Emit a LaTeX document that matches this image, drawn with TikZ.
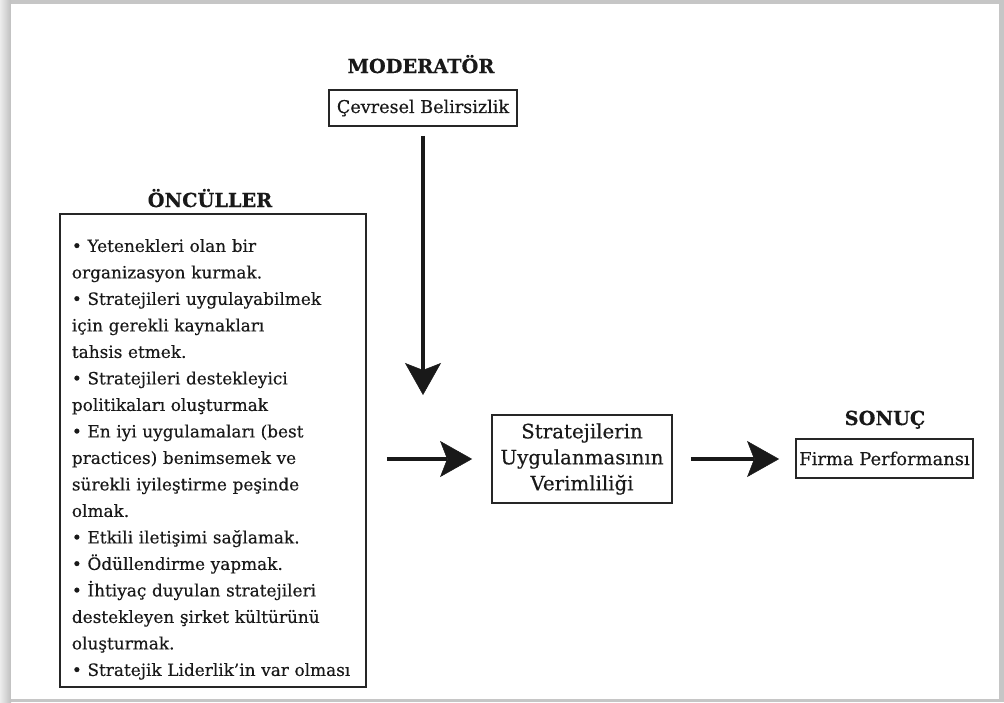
\documentclass[tikz,border=0pt]{standalone}
\usepackage{fontspec}
\setmainfont[FakeBold=0.35]{DejaVu Serif}
\usetikzlibrary{arrows.meta,calc}
\begin{document}
\begin{tikzpicture}[x=1pt,y=-1pt,
  box/.style={draw=black!85, line width=1.8pt, inner sep=0pt, text=black!90,
    font=\fontsize{17.6}{26}\selectfont},
  header/.style={anchor=base, text=black!90, font=\bfseries\fontsize{19.3}{22}\selectfont},
  bigarrow/.style={line width=3.5pt, draw=black!90,
    -{Stealth[length=32pt,width=36pt,inset=7pt,line width=0.5pt]}}]
\useasboundingbox (0,0) rectangle (1004,702);
% page frame with shadow
\fill[gray!45] (0,0) rectangle (1004,702);
\shade[left color=gray!15, right color=gray!50] (0,0) rectangle (11,702);
\fill[white] (11,4) rectangle (999,699);
% headers
\node[header] (modlabel) at (421,73) {MODERATÖR};
\node[header] (antlabel) at (210,207) {ÖNCÜLLER};
\node[header] (sonlabel) at (885,425) {SONUÇ};
% boxes
\node[box, minimum width=188pt, minimum height=36pt] (env) at (423,108) {Çevresel Belirsizlik};
\node[box, minimum width=180pt, minimum height=88pt, align=center,
  font=\fontsize{19.8}{26}\selectfont] (mid) at (582,459)
  {Stratejilerin\\Uygulanmasının\\Verimliliği};
\node[box, minimum width=177pt, minimum height=39pt,
  font=\fontsize{17.9}{22}\selectfont] (firma) at (884.5,458.5) {Firma Performansı};
\node[box, anchor=north west, inner xsep=12pt, inner ysep=0pt, text width=282pt,
  align=left, text height=38pt, text depth=435pt,
  font=\fontsize{16.9}{26.5}\selectfont] (ant) at (59,213)
  {• Yetenekleri olan bir\\
   organizasyon kurmak.\\
   • Stratejileri uygulayabilmek\\
   için gerekli kaynakları\\
   tahsis etmek.\\
   • Stratejileri destekleyici\\
   politikaları oluşturmak\\
   • En iyi uygulamaları (best\\
   practices) benimsemek ve\\
   sürekli iyileştirme peşinde\\
   olmak.\\
   • Etkili iletişimi sağlamak.\\
   • Ödüllendirme yapmak.\\
   • İhtiyaç duyulan stratejileri\\
   destekleyen şirket kültürünü\\
   oluşturmak.\\
   \mbox{• Stratejik Liderlik’in var olması}};
% connectors
\coordinate (downend) at (423,395);
\draw[bigarrow, shorten <=9pt] (env.south) -- (env.south |- downend);
\draw[bigarrow, shorten <=20pt, shorten >=19pt] (ant.east |- mid.west) -- (mid.west);
\draw[bigarrow, shorten <=18pt, shorten >=16pt] (mid.east) -- (firma.west |- mid.east);
\end{tikzpicture}
\end{document}
